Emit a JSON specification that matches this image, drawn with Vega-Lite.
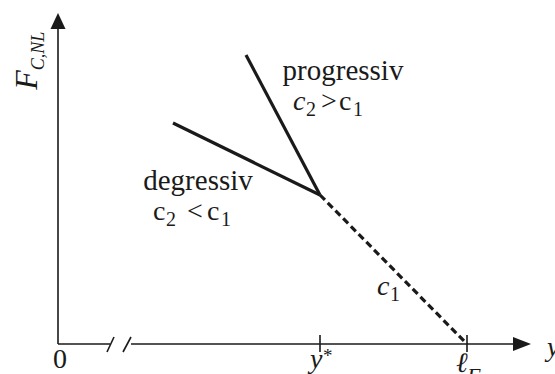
{
  "$schema": "https://vega.github.io/schema/vega-lite/v6.json",
  "width": 555,
  "height": 374,
  "padding": 0,
  "autosize": {"type": "none"},
  "config": {"view": {"stroke": null}},
  "encoding": {
    "x": {"field": "u", "type": "quantitative", "axis": null, "scale": {"domain": [-58, 497], "nice": false, "zero": false}},
    "y": {"field": "v", "type": "quantitative", "axis": null, "scale": {"domain": [-30, 344], "nice": false, "zero": false}}
  },
  "layer": [
    {
      "data": {"values": [
        {"part": "ordinate", "u": 0, "v": 0, "u2": 0, "v2": 316},
        {"part": "abscissa left", "u": 0, "v": 0, "u2": 52, "v2": 0},
        {"part": "abscissa right", "u": 73, "v": 0, "u2": 456, "v2": 0},
        {"part": "break 1", "u": 49, "v": -8, "u2": 56, "v2": 7},
        {"part": "break 2", "u": 65, "v": -8, "u2": 73, "v2": 7},
        {"part": "tick y*", "u": 262, "v": -8, "u2": 262, "v2": 9},
        {"part": "tick lF", "u": 409, "v": -8, "u2": 409, "v2": 9}
      ]},
      "mark": {"type": "rule", "color": "#1a1a1a", "strokeWidth": 1.6},
      "encoding": {"x2": {"field": "u2"}, "y2": {"field": "v2"}}
    },
    {
      "data": {"values": [{"u": 0, "v": 323}]},
      "mark": {"type": "point", "shape": "M0,-1L-0.94,1L0.94,1Z", "size": 256, "filled": true, "color": "#1a1a1a", "opacity": 1, "strokeWidth": 0}
    },
    {
      "data": {"values": [{"u": 464, "v": 0}]},
      "mark": {"type": "point", "shape": "M1,0L-1,-0.78L-1,0.78Z", "size": 324, "filled": true, "color": "#1a1a1a", "opacity": 1, "strokeWidth": 0}
    },
    {
      "data": {"values": [
        {"curve": "degressiv", "u": 115, "v": 221, "u2": 262, "v2": 149},
        {"curve": "progressiv", "u": 188, "v": 289, "u2": 262, "v2": 149}
      ]},
      "mark": {"type": "rule", "color": "#1a1a1a", "strokeWidth": 3.2, "strokeCap": "butt"},
      "encoding": {"x2": {"field": "u2"}, "y2": {"field": "v2"}}
    },
    {
      "data": {"values": [{"curve": "linear", "u": 262, "v": 149, "u2": 409, "v2": 0}]},
      "mark": {"type": "rule", "color": "#1a1a1a", "strokeWidth": 3.2, "strokeDash": [7, 4], "strokeCap": "butt"},
      "encoding": {"x2": {"field": "u2"}, "y2": {"field": "v2"}}
    },
    {
      "data": {"values": [
        {"u": 285, "v": 264, "label": "progressiv"},
        {"u": 140, "v": 154, "label": "degressiv"}
      ]},
      "mark": {"type": "text", "font": "Liberation Serif", "fontSize": 29, "align": "center", "baseline": "alphabetic", "color": "#1a1a1a"},
      "encoding": {"text": {"field": "label"}}
    },
    {
      "data": {"values": [
        {"u": -5, "v": -24, "label": "0"},
        {"u": 95, "v": 124, "label": "c"},
        {"u": 129, "v": 124, "label": "<"},
        {"u": 149, "v": 124, "label": "c"},
        {"u": 263, "v": 234, "label": ">"},
        {"u": 281, "v": 234, "label": "c"}
      ]},
      "mark": {"type": "text", "font": "Liberation Serif", "fontSize": 28, "align": "left", "baseline": "alphabetic", "color": "#1a1a1a"},
      "encoding": {"text": {"field": "label"}}
    },
    {
      "data": {"values": [
        {"u": 108, "v": 118, "label": "2"},
        {"u": 163, "v": 118, "label": "1"},
        {"u": 248, "v": 228, "label": "2"},
        {"u": 295, "v": 228, "label": "1"},
        {"u": 332, "v": 43, "label": "1"}
      ]},
      "mark": {"type": "text", "font": "Liberation Serif", "fontSize": 20, "align": "left", "baseline": "alphabetic", "color": "#1a1a1a"},
      "encoding": {"text": {"field": "label"}}
    },
    {
      "data": {"values": [
        {"u": 235, "v": 234, "label": "c"},
        {"u": 319, "v": 49, "label": "c"},
        {"u": 252, "v": -24, "label": "y"},
        {"u": 489, "v": -12, "label": "y"},
        {"u": 398, "v": -28, "label": "ℓ"}
      ]},
      "mark": {"type": "text", "font": "Liberation Serif", "fontStyle": "italic", "fontSize": 28, "align": "left", "baseline": "alphabetic", "color": "#1a1a1a"},
      "encoding": {"text": {"field": "label"}}
    },
    {
      "data": {"values": [{"u": 265, "v": -18, "label": "*"}]},
      "mark": {"type": "text", "font": "Liberation Serif", "fontSize": 19, "align": "left", "baseline": "alphabetic", "color": "#1a1a1a"},
      "encoding": {"text": {"field": "label"}}
    },
    {
      "data": {"values": [{"u": 409, "v": -39, "label": "F"}]},
      "mark": {"type": "text", "font": "Liberation Serif", "fontStyle": "italic", "fontSize": 22, "align": "left", "baseline": "alphabetic", "color": "#1a1a1a"},
      "encoding": {"text": {"field": "label"}}
    },
    {
      "data": {"values": [{"u": -21, "v": 264, "label": "F"}]},
      "mark": {"type": "text", "font": "Liberation Serif", "fontStyle": "italic", "fontSize": 32, "angle": 270, "align": "center", "baseline": "alphabetic", "color": "#1a1a1a"},
      "encoding": {"text": {"field": "label"}}
    },
    {
      "data": {"values": [{"u": -14, "v": 293, "label": "C,NL"}]},
      "mark": {"type": "text", "font": "Liberation Serif", "fontStyle": "italic", "fontSize": 18, "angle": 270, "align": "center", "baseline": "alphabetic", "color": "#1a1a1a"},
      "encoding": {"text": {"field": "label"}}
    }
  ]
}
